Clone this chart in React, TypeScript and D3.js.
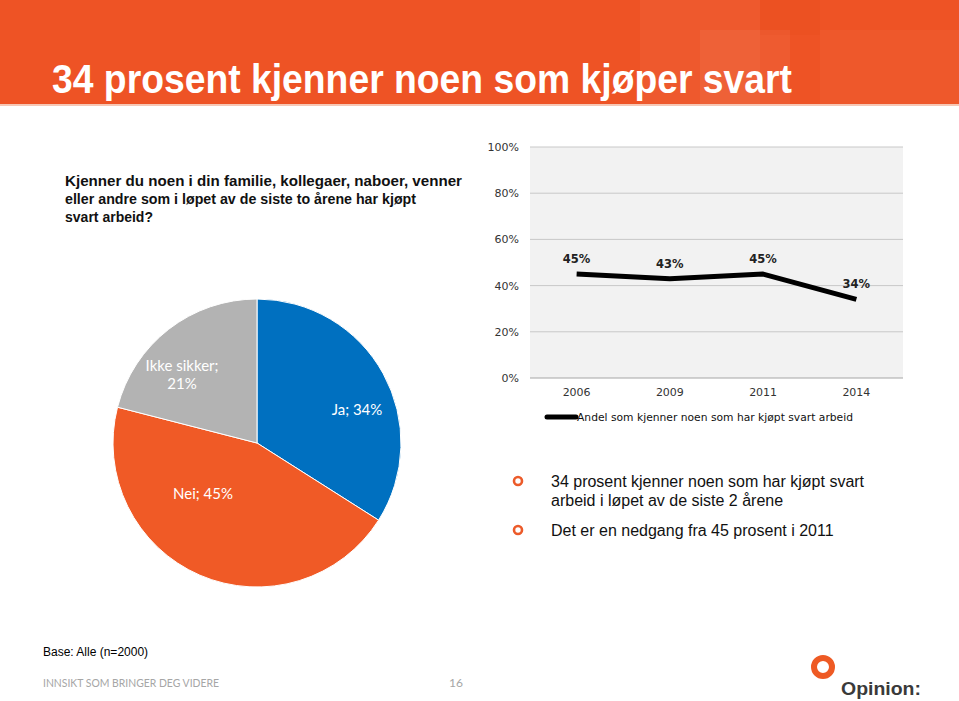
import React from "react";
import * as d3 from "d3";

const years = ["2006", "2009", "2011", "2014"];
const shares = [45, 43, 45, 34];
const yTicks = [0, 20, 40, 60, 80, 100];
const pieCats = ["Ja", "Nei", "Ikke sikker"];
const pieVals = [34, 45, 21];
const pieColors = ["#0070c0", "#f05a26", "#b3b3b3"];
const questionLines = [
  "Kjenner du noen i din familie, kollegaer, naboer, venner",
  "eller andre som i løpet av de siste to årene har kjøpt",
  "svart arbeid?",
];
const bullets = [
  ["34 prosent kjenner noen som har kjøpt svart", "arbeid i løpet av de siste 2 årene"],
  ["Det er en nedgang fra 45 prosent i 2011"],
];

const W = 959;
const H = 701;

export default function App() {
  // line chart
  const plot = { l: 530, r: 903, t: 147, b: 378 };
  const x = d3.scalePoint<string>().domain(years).range([plot.l, plot.r]).padding(0.5);
  const y = d3.scaleLinear().domain([0, 100]).range([plot.b, plot.t]);
  const line = d3
    .line<number>()
    .x((_, i) => x(years[i]) as number)
    .y((d) => y(d));

  // pie
  const cx = 257;
  const cy = 443;
  const R = 144;
  const pie = d3.pie<number>().sort(null).value((d) => d)(pieVals);
  const arc = d3.arc<d3.PieArcDatum<number>>().innerRadius(0).outerRadius(R);
  const labelOffsets: [number, number][] = [
    [100, -33],
    [-54, 51],
    [-75, -72],
  ];

  const sans = "'Liberation Sans', Arial, sans-serif";
  const verd = "'DejaVu Sans', Verdana, sans-serif";
  const geo = "Lato, 'DejaVu Sans', sans-serif";

  return (
    <svg
      width={W}
      height={H}
      viewBox={`0 0 ${W} ${H}`}
      style={{ position: "absolute", left: 0, top: 0, background: "#fff" }}
    >
      {/* header */}
      <rect x={0} y={0} width={W} height={104} fill="#ee5325" />
      <rect x={640} y={0} width={120} height={104} fill="#fff" opacity={0.04} />
      <rect x={700} y={30} width={90} height={74} fill="#fff" opacity={0.05} />
      <rect x={760} y={0} width={60} height={35} fill="#c83000" opacity={0.06} />
      <rect x={820} y={30} width={140} height={74} fill="#fff" opacity={0.03} />
      <rect x={0} y={104} width={W} height={2} fill="#f6c7b5" />
      <text
        x={52}
        y={93}
        fill="#fff"
        fontFamily="'Liberation Sans Narrow', 'Liberation Sans', Arial, sans-serif"
        fontWeight="bold"
        fontSize={40}
        textLength={740}
        lengthAdjust="spacingAndGlyphs"
      >
        34 prosent kjenner noen som kjøper svart
      </text>

      {/* question */}
      {questionLines.map((t, i) => (
        <text
          key={i}
          x={65}
          y={186 + i * 18}
          fontFamily={sans}
          fontWeight="bold"
          fontSize={15}
          fill="#111"
          textLength={i === 0 ? 397 : i === 1 ? 351 : 88}
          lengthAdjust="spacingAndGlyphs"
        >
          {t}
        </text>
      ))}

      {/* line chart */}
      <rect x={plot.l} y={plot.t} width={plot.r - plot.l} height={plot.b - plot.t} fill="#f2f2f2" />
      {yTicks.map((t) => (
        <g key={t}>
          <line
            x1={plot.l}
            x2={plot.r}
            y1={y(t)}
            y2={y(t)}
            stroke={t === 0 ? "#a6a6a6" : "#c8c8c8"}
            strokeWidth={1}
          />
          <text
            x={519}
            y={y(t) + 4}
            textAnchor="end"
            fontFamily={verd}
            fontSize={11}
            fill="#333"
          >
            {t}%
          </text>
        </g>
      ))}
      {years.map((yr) => (
        <text
          key={yr}
          x={x(yr)}
          y={396}
          textAnchor="middle"
          fontFamily={verd}
          fontSize={11}
          fill="#333"
        >
          {yr}
        </text>
      ))}
      <path
        d={line(shares) || ""}
        fill="none"
        stroke="#000"
        strokeWidth={5}
        strokeLinejoin="round"
      />
      {shares.map((v, i) => (
        <text
          key={i}
          x={x(years[i])}
          y={y(v) - 11}
          textAnchor="middle"
          fontFamily={verd}
          fontWeight="bold"
          fontSize={11.5}
          fill="#222"
        >
          {v}%
        </text>
      ))}
      <line x1={547} x2={576} y1={417} y2={417} stroke="#000" strokeWidth={5} strokeLinecap="round" />
      <text
        x={577}
        y={421}
        fontFamily={verd}
        fontSize={11}
        fill="#111"
        textLength={276}
        lengthAdjust="spacingAndGlyphs"
      >
        Andel som kjenner noen som har kjøpt svart arbeid
      </text>

      {/* pie */}
      <g transform={`translate(${cx},${cy})`}>
        {pie.map((p, i) => (
          <path key={i} d={arc(p) || ""} fill={pieColors[i]} stroke="#fff" strokeWidth={1} />
        ))}
        {pie.map((p, i) => {
          const [dx, dy] = labelOffsets[i];
          const label = `${pieCats[i]}; ${pieVals[i]}%`;
          if (i === 2) {
            return (
              <text key={i} textAnchor="middle" fontFamily={geo} fontSize={15} fill="#fff">
                <tspan x={dx} y={dy}>{pieCats[i]};</tspan>
                <tspan x={dx} y={dy + 18}>{pieVals[i]}%</tspan>
              </text>
            );
          }
          return (
            <text key={i} x={dx} y={dy + 5} textAnchor="middle" fontFamily={geo} fontSize={15} fill="#fff">
              {label}
            </text>
          );
        })}
      </g>

      {/* bullets */}
      {bullets.map((b, i) => {
        const by = i === 0 ? 481 : 530;
        return (
          <g key={i}>
            <circle cx={518} cy={by} r={4} fill="none" stroke="#ec5b2a" strokeWidth={2.6} />
            {b.map((t, j) => (
              <text
                key={j}
                x={551}
                y={by + 6 + j * 19}
                fontFamily={sans}
                fontSize={16}
                fill="#111"
              >
                {t}
              </text>
            ))}
          </g>
        );
      })}

      {/* footer */}
      <text x={43} y={656} fontFamily={sans} fontSize={12} fill="#000">
        Base: Alle (n=2000)
      </text>
      <text
        x={43}
        y={687}
        fontFamily={geo}
        fontSize={11}
        fill="#a6a6a6"
        textLength={176}
        lengthAdjust="spacingAndGlyphs"
      >
        INNSIKT SOM BRINGER DEG VIDERE
      </text>
      <text x={449} y={687} fontFamily={geo} fontSize={12} fill="#a6a6a6">
        16
      </text>
      <circle cx={823} cy={667} r={9} fill="none" stroke="#ee5a24" strokeWidth={6} />
      <text
        x={841}
        y={695}
        fontFamily={sans}
        fontSize={19}
        fontWeight="bold"
        fill="#3a3a3a"
        textLength={80}
        lengthAdjust="spacingAndGlyphs"
      >
        Opinion:
      </text>
    </svg>
  );
}
